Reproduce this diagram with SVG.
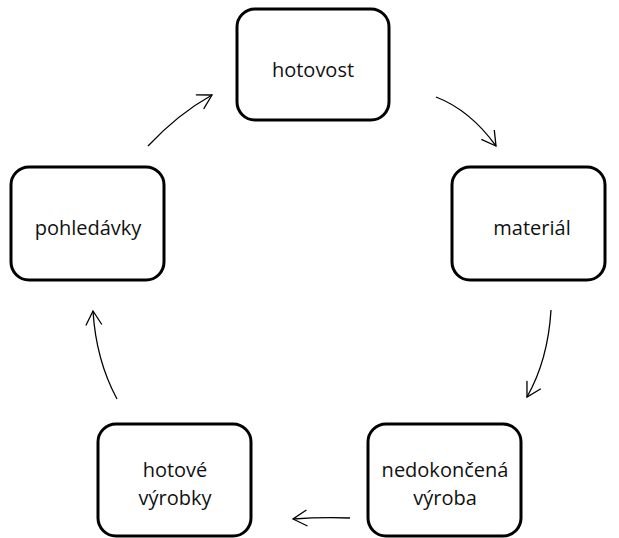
<svg xmlns="http://www.w3.org/2000/svg" width="619" height="538" viewBox="0 0 619 538">
<style>
.box{fill:#fff;stroke:#000;stroke-width:3}
.lbl{font-family:"Open Sans","Liberation Sans",Arial,sans-serif;font-size:20px;fill:#111;text-anchor:middle}
.con{fill:none;stroke:#000;stroke-width:1.3;marker-end:url(#ah)}
</style>
<defs>
<marker id="ah" viewBox="0 0 20 20" refX="18" refY="10" markerWidth="20" markerHeight="20" markerUnits="userSpaceOnUse" orient="auto">
<path d="M4,2 L18,10 L4,18" fill="none" stroke="#000" stroke-width="1.3"/>
</marker>
</defs>
<rect width="619" height="538" fill="#fff"/>
<g id="connectors">
<path class="con" d="M148,146 Q178,114 212,95"/>
<path class="con" d="M436,97 Q470,110 496,146"/>
<path class="con" d="M551,310 Q548,360 527,397"/>
<path class="con" d="M350,518 Q322,517 293,519"/>
<path class="con" d="M117,399 Q96,360 93,311"/>
</g>
<g id="hotovost"><rect class="box" x="237" y="9" width="152" height="111" rx="18"/><text class="lbl" x="313" y="77">hotovost</text></g>
<g id="material"><rect class="box" x="452" y="167" width="153" height="113" rx="18"/><text class="lbl" x="532" y="235">materiál</text></g>
<g id="nedokoncena"><rect class="box" x="368" y="424" width="153" height="112" rx="18"/><text class="lbl" x="445" y="477">nedokončená</text><text class="lbl" x="445" y="505">výroba</text></g>
<g id="hotove"><rect class="box" x="98" y="424" width="153" height="112" rx="18"/><text class="lbl" x="175" y="477">hotové</text><text class="lbl" x="175" y="505">výrobky</text></g>
<g id="pohledavky"><rect class="box" x="11" y="167" width="153" height="113" rx="18"/><text class="lbl" x="88" y="235">pohledávky</text></g>
</svg>
